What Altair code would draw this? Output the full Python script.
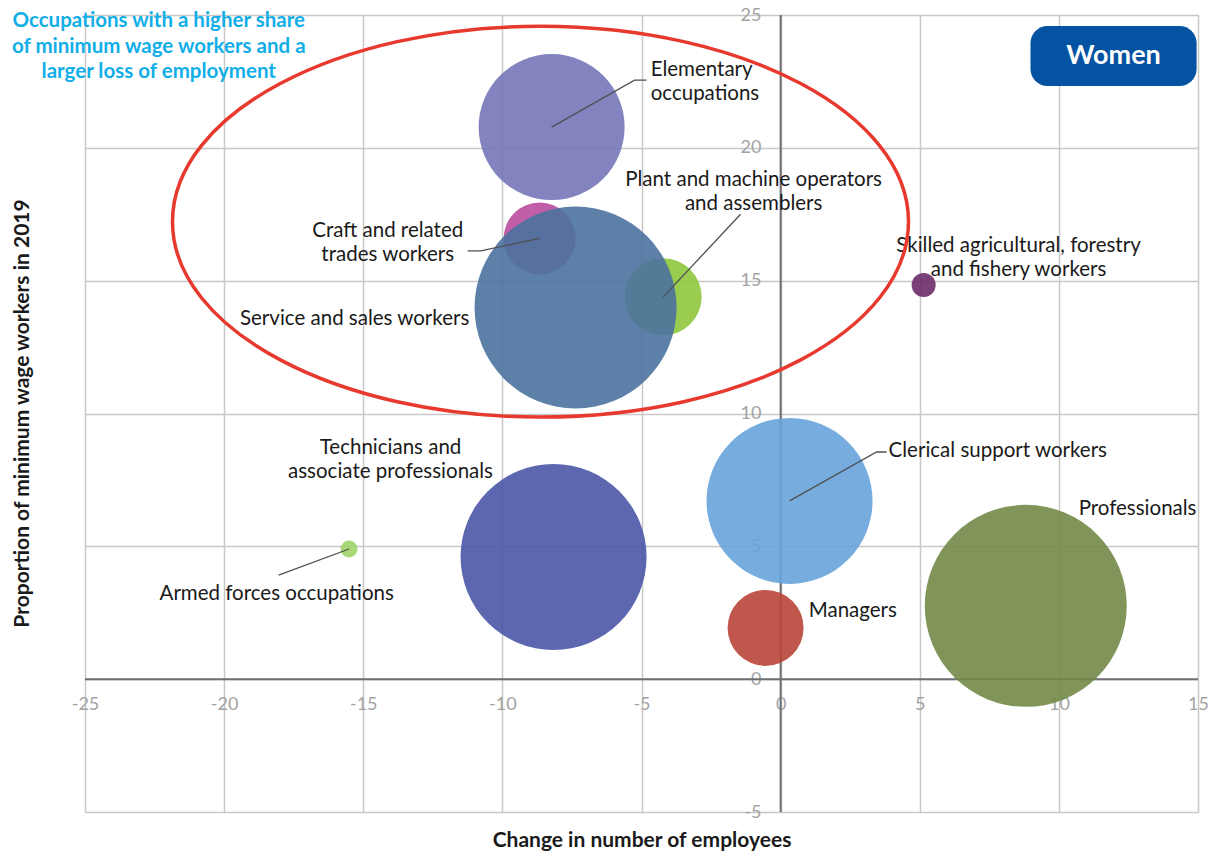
import altair as alt
import pandas as pd

FONT = "Lato"

occupations = [
    "Elementary occupations",
    "Craft and related trades workers",
    "Plant and machine operators and assemblers",
    "Service and sales workers",
    "Skilled agricultural, forestry and fishery workers",
    "Clerical support workers",
    "Technicians and associate professionals",
    "Armed forces occupations",
    "Managers",
    "Professionals",
]
change = [-8.23, -8.66, -4.22, -7.37, 5.14, 0.32, -8.16, -15.51, -0.54, 8.81]
share = [20.78, 16.59, 14.39, 13.99, 14.84, 6.71, 4.60, 4.90, 1.93, 2.76]
bubble_size = [21316, 5184, 5929, 40804, 576, 27556, 34596, 289, 5776, 40804]
colors = ["#7676b9", "#b94e9e", "#8fc63c", "#4b729e", "#6c2b69",
          "#67a4da", "#4a56a7", "#9ed469", "#b94538", "#738a48"]

# labels (y = first text line)
left_labels = ["Elementary\noccupations", "Clerical support workers", "Professionals", "Managers"]
left_x = [-4.67, 3.88, 10.71, 1.01]
left_y = [22.93, 8.59, 6.41, 2.57]

center_labels = ["Plant and machine operators\nand assemblers", "Craft and related\ntrades workers",
                 "Service and sales workers", "Skilled agricultural, forestry\nand fishery workers",
                 "Technicians and\nassociate professionals", "Armed forces occupations"]
center_x = [-0.97, -14.12, -15.31, 8.55, -14.02, -18.11]
center_y = [18.78, 16.87, 13.56, 16.31, 8.70, 3.21]

# leader lines
leader_id = ["elem", "elem", "elem", "plant", "plant", "craft", "craft", "craft",
             "cler", "cler", "cler", "armed", "armed"]
leader_x = [-8.23, -5.25, -4.82, -4.22, -1.44, -11.25, -10.78, -8.66,
            0.32, 3.45, 3.81, -15.51, -18.04]
leader_y = [20.78, 22.55, 22.55, 14.39, 17.5, 16.12, 16.12, 16.59,
            6.71, 8.55, 8.55, 4.90, 3.92]

note_text = "Occupations with a higher share\nof minimum wage workers and a\nlarger loss of employment"
note_x = [-22.35]
note_y = [24.76]

ellipse_x = [-8.63]
ellipse_y = [17.22]

badge_x = [8.98]
badge_x2 = [14.95]
badge_y = [24.59]
badge_y2 = [22.33]

bubbles = pd.DataFrame({
    "occ": occupations, "x": change, "y": share, "s": bubble_size,
    "draw": list(range(len(occupations))),
})

xscale = alt.Scale(domain=[-25, 15], nice=False, zero=False)
yscale = alt.Scale(domain=[-5, 25], nice=False, zero=False)

xaxis = alt.Axis(values=list(range(-25, 16, 5)), offset=-133, domain=False, ticks=False,
                 grid=True, gridColor="#c8c8c8", gridWidth=1.5,
                 labelFont=FONT, labelFontSize=18, labelColor="#a3a3a3", labelPadding=16,
                 labelFlush=False, labelExpr="'' + datum.value",
                 title="Change in number of employees", titleFont=FONT, titleFontSize=21,
                 titleFontWeight="bold", titleColor="#1a1a1a", titleY=161,
                 titleBaseline="middle")
yaxis = alt.Axis(values=list(range(-5, 26, 5)), offset=-695, domain=False, ticks=False,
                 grid=True, gridColor="#c8c8c8", gridWidth=1.5,
                 labelFont=FONT, labelFontSize=18, labelColor="#a3a3a3", labelPadding=19,
                 labelFlush=False, labelExpr="'' + datum.value",
                 title="Proportion of minimum wage workers in 2019", titleFont=FONT,
                 titleFontSize=21, titleFontWeight="bold", titleColor="#1a1a1a",
                 titleX=-758, titleY=398, titleAngle=-90, titleAlign="center",
                 titleBaseline="middle")

zero_v = alt.Chart(pd.DataFrame({"x": [0]})).mark_rule(color="#6e6e73", strokeWidth=2).encode(
    x=alt.X("x:Q", scale=xscale, axis=xaxis))
zero_h = alt.Chart(pd.DataFrame({"y": [0]})).mark_rule(color="#6e6e73", strokeWidth=2).encode(
    y=alt.Y("y:Q", scale=yscale, axis=yaxis))

bubble_layer = alt.Chart(bubbles).mark_circle(opacity=0.9).encode(
    x=alt.X("x:Q", scale=xscale),
    y=alt.Y("y:Q", scale=yscale),
    size=alt.Size("s:Q", scale=None, legend=None),
    color=alt.Color("occ:N", scale=alt.Scale(domain=occupations, range=colors), legend=None),
    order=alt.Order("draw:Q"),
)

leaders = alt.Chart(pd.DataFrame({
    "id": leader_id, "x": leader_x, "y": leader_y, "seq": list(range(len(leader_x)))
})).mark_line(color="#505050", strokeWidth=1.3).encode(
    x=alt.X("x:Q", scale=xscale),
    y=alt.Y("y:Q", scale=yscale),
    detail="id:N",
    order="seq:Q",
)

LABEL_SIZE = 20.5

left_text = alt.Chart(pd.DataFrame({"t": left_labels, "x": left_x, "y": left_y})).mark_text(
    align="left", baseline="middle", font=FONT, fontSize=LABEL_SIZE, color="#1a1a1a",
    lineBreak="\n", lineHeight=24).encode(
    x=alt.X("x:Q", scale=xscale), y=alt.Y("y:Q", scale=yscale), text="t:N")

center_text = alt.Chart(pd.DataFrame({"t": center_labels, "x": center_x, "y": center_y})).mark_text(
    align="center", baseline="middle", font=FONT, fontSize=LABEL_SIZE, color="#1a1a1a",
    lineBreak="\n", lineHeight=24).encode(
    x=alt.X("x:Q", scale=xscale), y=alt.Y("y:Q", scale=yscale), text="t:N")

note = alt.Chart(pd.DataFrame({"t": [note_text], "x": note_x, "y": note_y})).mark_text(
    align="center", baseline="middle", font=FONT, fontSize=20.5, fontWeight="bold",
    color="#12aee8", lineBreak="\n", lineHeight=25.5).encode(
    x=alt.X("x:Q", scale=xscale), y=alt.Y("y:Q", scale=yscale), text="t:N")

ellipse_path = ("M -1 0 C -1 -0.2933 -0.5523 -0.531 0 -0.531 "
                "C 0.5523 -0.531 1 -0.2933 1 0 "
                "C 1 0.2933 0.5523 0.531 0 0.531 "
                "C -0.5523 0.531 -1 0.2933 -1 0 Z")
ellipse = alt.Chart(pd.DataFrame({"x": ellipse_x, "y": ellipse_y})).mark_point(
    shape=ellipse_path, filled=False, stroke="#e8392f", strokeWidth=3.5, opacity=1,
    size=736 * 736).encode(
    x=alt.X("x:Q", scale=xscale), y=alt.Y("y:Q", scale=yscale))

badge = alt.Chart(pd.DataFrame({"x": badge_x, "x2": badge_x2, "y": badge_y, "y2": badge_y2})).mark_rect(
    color="#0452a2", cornerRadius=17).encode(
    x=alt.X("x:Q", scale=xscale), x2="x2:Q",
    y=alt.Y("y:Q", scale=yscale), y2="y2:Q")

badge_text = alt.Chart(pd.DataFrame({"t": ["Women"], "x": [(badge_x[0] + badge_x2[0]) / 2],
                                     "y": [(badge_y[0] + badge_y2[0]) / 2]})).mark_text(
    align="center", baseline="middle", font=FONT, fontSize=27, fontWeight="bold",
    color="white").encode(
    x=alt.X("x:Q", scale=xscale), y=alt.Y("y:Q", scale=yscale), text="t:N")

chart = alt.layer(
    zero_v, zero_h, bubble_layer, leaders, left_text, center_text, note, ellipse, badge, badge_text
).properties(
    width=1113, height=797,
    autosize=alt.AutoSizeParams(type="none"),
    padding={"left": 85, "top": 15, "right": 18, "bottom": 40},
).configure_view(stroke=None).configure(background="white")

chart.save("out.html", embed_options={"renderer": "svg", "actions": False})
